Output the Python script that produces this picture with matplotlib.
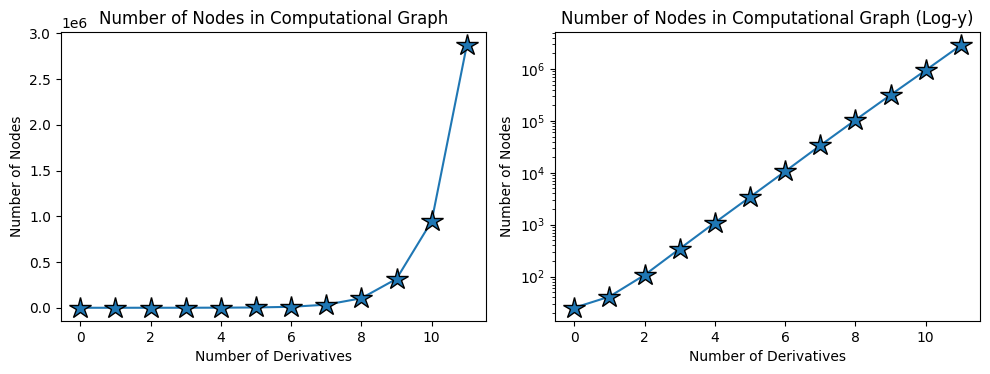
import numpy as np
import matplotlib.pyplot as plt

# number of derivatives vs nodes in the computational graph
derivs = list(range(12))
nodes = [25, 41, 107, 343, 1093, 3405, 10630, 33600, 104000, 316000, 946000, 2869000]

fig, axes = plt.subplots(1, 2, figsize=(9.9, 3.74))

for ax, title, logy in [(axes[0], "Number of Nodes in Computational Graph", False),
                        (axes[1], "Number of Nodes in Computational Graph (Log-y)", True)]:
    ax.plot(derivs, nodes, marker='*', markersize=16, markeredgecolor='black')
    ax.set_title(title)
    ax.set_xlabel("Number of Derivatives")
    ax.set_ylabel("Number of Nodes")
    if logy:
        ax.set_yscale('log')

plt.subplots_adjust(left=0.0616, right=0.990, top=0.914, bottom=0.142, wspace=0.162)
plt.savefig("out.png")
